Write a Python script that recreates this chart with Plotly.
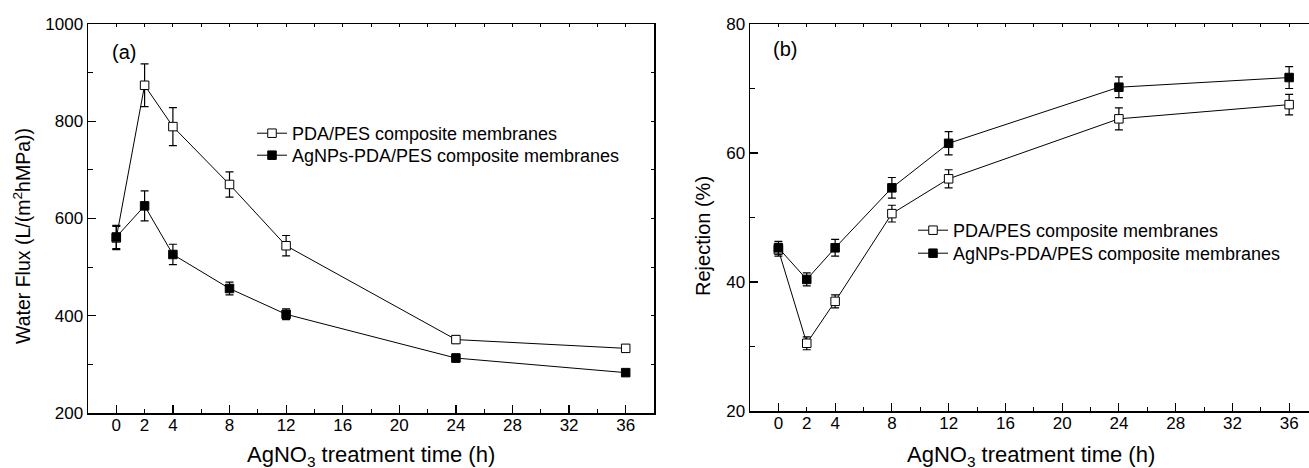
import plotly.graph_objects as go

# ---------------- data ----------------
time_h = [0, 2, 4, 8, 12, 24, 36]

flux_pda = [560, 874, 789, 670, 544, 351, 333]
flux_pda_err = [24, 44, 39, 26, 21, 8, 7]
flux_ag = [562, 626, 526, 456, 403, 313, 283]
flux_ag_err = [24, 31, 21, 13, 11, 8, 5]

rej_pda = [45.0, 30.5, 37.0, 50.6, 56.0, 65.3, 67.5]
rej_pda_err = [1.0, 1.0, 1.0, 1.3, 1.4, 1.7, 1.6]
rej_ag = [45.3, 40.4, 45.3, 54.6, 61.5, 70.2, 71.7]
rej_ag_err = [1.0, 1.0, 1.3, 1.6, 1.8, 1.6, 1.7]

name_pda = "PDA/PES composite membranes"
name_ag = "AgNPs-PDA/PES composite membranes"

x_major = [0, 4, 8, 12, 16, 20, 24, 28, 32, 36]
x_minor = [2, 6, 10, 14, 18, 22, 26, 30, 34]
x_labels = [0, 2, 4, 8, 12, 16, 20, 24, 28, 32, 36]
x_top = list(range(0, 38, 2))
flux_major = [200, 400, 600, 800, 1000]
flux_minor = [300, 500, 700, 900]
flux_all = list(range(200, 1001, 100))
rej_major = [20, 40, 60, 80]
rej_minor = [30, 50, 70]

# ---------------- figure ----------------
W, H = 1309, 468
FONT = "Liberation Sans, Arial, sans-serif"
tickfont = dict(family=FONT, size=17, color="black")

fig = go.Figure()


def add_series(xa, ya, y, err, name, filled, legend):
    fig.add_trace(go.Scatter(
        x=time_h, y=y, mode="lines+markers", name=name,
        xaxis=xa, yaxis=ya, legend=legend,
        line=dict(color="black", width=1),
        marker=dict(symbol="square", size=8.5,
                    color="black" if filled else "white",
                    line=dict(color="black", width=1)),
        error_y=dict(type="data", array=err, visible=True,
                     color="black", thickness=1.2, width=4),
    ))


def add_helper(xa, ya, y):
    # invisible trace so that the overlay (tick-only) axes get drawn
    fig.add_trace(go.Scatter(
        x=time_h, y=y, xaxis=xa, yaxis=ya, mode="markers",
        marker=dict(opacity=0, size=1), showlegend=False,
        hoverinfo="skip",
    ))


add_series("x", "y", flux_pda, flux_pda_err, name_pda, False, "legend")
add_series("x", "y", flux_ag, flux_ag_err, name_ag, True, "legend2")
add_series("x2", "y2", rej_pda, rej_pda_err, name_pda, False, "legend3")
add_series("x2", "y2", rej_ag, rej_ag_err, name_ag, True, "legend4")
add_helper("x3", "y3", flux_pda)
add_helper("x5", "y", flux_pda)
add_helper("x4", "y2", rej_pda)
add_helper("x6", "y2", rej_pda)

axline = dict(showline=True, linecolor="black", linewidth=1.5,
              showgrid=False, zeroline=False)

xdomA = [88 / W, 654 / W]
xdomB = [750 / W, 1.0]
xrA = [-2, 38]
xrB = [-2, 37.4]
plot_h = H - 24 - 55


def py(pix):
    return (413 - pix) / plot_h


def main_x(dom, rng, anchor):
    return dict(domain=dom, range=rng, anchor=anchor, mirror=True,
                ticks="inside", tickvals=x_major, ticklen=8, tickwidth=1.2,
                tickcolor="black", showticklabels=False,
                minor=dict(tickvals=x_minor, ticks="inside", ticklen=4,
                           tickwidth=1, tickcolor="black"),
                **axline)


def top_x(rng, over, anchor):
    return dict(range=rng, overlaying=over, anchor=anchor, side="top",
                ticks="inside", tickvals=x_top, ticklen=3, tickwidth=1,
                tickcolor="black", showticklabels=False, showline=False,
                showgrid=False, zeroline=False)


def label_x(rng, over, anchor):
    return dict(range=rng, overlaying=over, anchor=anchor, side="bottom",
                ticks="inside", tickvals=x_labels,
                ticktext=[str(v) for v in x_labels], ticklen=4,
                tickwidth=1, tickcolor="black", tickfont=tickfont,
                showline=False, showgrid=False, zeroline=False)


def leg(xpix, row_center):
    return dict(x=xpix / W, y=py(row_center - 17), xanchor="left",
                yanchor="top", bgcolor="rgba(0,0,0,0)",
                font=dict(family=FONT, size=18, color="black"),
                tracegroupgap=0)


fig.update_layout(
    width=W, height=H,
    margin=dict(l=0, r=0, t=24, b=55),
    paper_bgcolor="white", plot_bgcolor="white",
    font=dict(family=FONT, color="black"),
    hovermode=False,
    xaxis=main_x(xdomA, xrA, "y"),
    yaxis=dict(domain=[0, 1], range=[200, 1000], anchor="x", mirror=True,
               ticks="inside", tickvals=flux_major, ticklen=8, tickwidth=1.2,
               tickcolor="black", tickfont=tickfont,
               minor=dict(tickvals=flux_minor, ticks="inside", ticklen=5,
                          tickwidth=1, tickcolor="black"),
               **axline),
    xaxis2=main_x(xdomB, xrB, "y2"),
    yaxis2=dict(domain=[2 / plot_h, 1], range=[20, 80], anchor="x2",
                mirror=False, ticks="inside", tickvals=rej_major, ticklen=8,
                tickwidth=1.2, tickcolor="black", tickfont=tickfont,
                minor=dict(tickvals=rej_minor, ticks="inside", ticklen=5,
                           tickwidth=1, tickcolor="black"),
                **axline),
    xaxis3=top_x(xrA, "x", "y"),
    xaxis4=top_x(xrB, "x2", "y2"),
    xaxis5=label_x(xrA, "x", "y"),
    xaxis6=label_x(xrB, "x2", "y2"),
    yaxis3=dict(range=[200, 1000], overlaying="y", anchor="x", side="right",
                ticks="inside", tickvals=flux_all, ticklen=3, tickwidth=1,
                tickcolor="black", showticklabels=False, showline=False,
                showgrid=False, zeroline=False),
    legend=leg(252, 132),
    legend2=leg(252, 154),
    legend3=leg(913, 229),
    legend4=leg(913, 252),
)

ann = [
    dict(text="(a)", x=124 / W, y=py(52), font=dict(size=20)),
    dict(text="(b)", x=785 / W, y=py(49), font=dict(size=20)),
    dict(text="AgNO<sub>3</sub> treatment time (h)", x=371 / W, y=py(456),
         font=dict(size=22)),
    dict(text="AgNO<sub>3</sub> treatment time (h)", x=1031 / W, y=py(456),
         font=dict(size=22)),
    dict(text="Water Flux (L/(m<sup>2</sup>hMPa))", x=22 / W, y=py(236),
         textangle=-90, font=dict(size=19.5)),
    dict(text="Rejection (%)", x=703 / W, y=py(236), textangle=-90,
         font=dict(size=20)),
]
for a in ann:
    a.update(xref="paper", yref="paper", showarrow=False,
             xanchor="center", yanchor="middle")
    a["font"].update(family=FONT, color="black")
fig.update_layout(annotations=ann)

fig.write_html("out.html",
               config={"displayModeBar": False, "staticPlot": True},
               post_script="document.body.style.margin='0px';"
                           "document.body.style.overflow='hidden';")
